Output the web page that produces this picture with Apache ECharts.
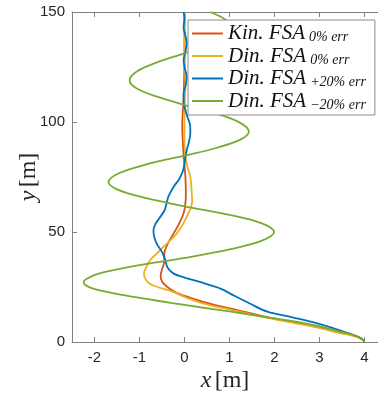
<!DOCTYPE html>
<html>
<head>
<meta charset="utf-8">
<script src="https://cdn.jsdelivr.net/npm/echarts@6/dist/echarts.min.js"></script>
<style>
  html, body { margin: 0; padding: 0; background: #fff; }
  #chart { width: 378px; height: 397px; }
</style>
</head>
<body>
<div id="chart"></div>
<script>
const xTicks = [-2, -1, 0, 1, 2, 3, 4];
const yTicks = [0, 50, 100, 150];

// [x, y] pairs
const kin0 = [
  [4.0, 0.3], [3.85, 2.3], [3.4, 4.5], [2.95, 6.8], [2.4, 9.0], [1.84, 11.3], [1.06, 15],
  [0.5, 17.8], [0.1, 20.3], [-0.2, 22.6], [-0.38, 25], [-0.5, 27.5], [-0.53, 30], [-0.5, 33],
  [-0.45, 36.5], [-0.45, 40], [-0.4, 43.5], [-0.28, 48], [-0.14, 53], [-0.02, 58.5], [0.02, 63],
  [0.03, 68], [0.02, 75], [0.0, 80], [-0.02, 85], [-0.04, 92], [-0.05, 98], [-0.04, 104],
  [-0.02, 110], [-0.01, 118], [0.0, 130], [0.0, 150]
];
const din0 = [
  [4.0, 0.3], [3.85, 2.2], [3.4, 4.3], [2.95, 6.6], [2.4, 8.8], [1.84, 11], [1.06, 14.5],
  [0.4, 17.6], [0.0, 20.5], [-0.27, 22.9], [-0.6, 25], [-0.79, 26.7], [-0.88, 29], [-0.9, 31.2],
  [-0.85, 34], [-0.76, 37.3], [-0.6, 40.5], [-0.47, 43.3], [-0.3, 46.5], [-0.17, 49.4],
  [-0.05, 53], [0.05, 57], [0.13, 60.5], [0.17, 64], [0.16, 68], [0.13, 75], [0.06, 80],
  [0.02, 85], [0.0, 92], [0.0, 100], [0.01, 110], [0.02, 118], [0.0, 130], [0.0, 150]
];
const dinP20 = [
  [4.0, 0.3], [3.9, 2], [3.5, 5], [2.95, 8.5], [2.4, 11.2], [1.84, 13.8], [1.45, 17.5],
  [1.08, 21.3], [0.8, 24.3], [0.32, 27.4], [0.0, 29.3], [-0.25, 31.2], [-0.38, 34], [-0.43, 37.5],
  [-0.5, 41], [-0.6, 44], [-0.67, 47.5], [-0.69, 50.8], [-0.65, 53.5], [-0.55, 56.5], [-0.44, 60],
  [-0.4, 63], [-0.35, 66.5], [-0.24, 70.6], [-0.12, 74], [-0.04, 77.5], [0.0, 81], [0.02, 84.2],
  [0.06, 88], [0.1, 91], [0.13, 95], [0.12, 99], [0.07, 102], [0.02, 105.5], [-0.02, 109],
  [-0.02, 113], [0.03, 117], [0.05, 120.6], [0.01, 124], [-0.02, 128], [0.02, 132], [0.05, 136],
  [0.01, 140], [-0.02, 143], [0.0, 147], [-0.02, 150]
];
const dinM20 = [
  [4.0, 0.3], [3.85, 2.5], [3.4, 5], [2.9, 7.5], [2.3, 9.8], [1.6, 12], [1.0, 13.9],
  [0.35, 15.8], [-0.27, 17.7], [-0.85, 19.6], [-1.39, 21.4], [-1.8, 23.1], [-2.08, 24.6],
  [-2.21, 26], [-2.24, 27.2], [-2.19, 28.5], [-1.94, 30.9], [-1.12, 34.5], [0.0, 38.2],
  [1.0, 42.1], [1.72, 46.1], [1.99, 50], [1.72, 53.9], [1.0, 57.8], [0.0, 61.7],
  [-0.85, 65.4], [-1.46, 69], [-1.69, 72.7], [-1.46, 76.7], [-0.85, 80.7], [0.0, 84.7],
  [0.72, 88.3], [1.24, 92], [1.43, 95.6], [1.24, 99.6], [0.72, 103.7], [0.0, 107.7],
  [-0.61, 111.5], [-1.06, 115.2], [-1.22, 119], [-1.06, 123], [-0.61, 127.1], [0.0, 131.2],
  [0.52, 135], [0.91, 138.9], [1.05, 142.7], [0.91, 146.5], [0.57, 150]
];

const seriesNames = ['kin0', 'din0', 'dinP20', 'dinM20'];
const mainLabels = ['Kin. FSA', 'Din. FSA', 'Din. FSA', 'Din. FSA'];
const subLabels = ['0% err', '0% err', '+20% err', '\u221220% err'];
const colors = ['#D95319', '#EDB120', '#0072BD', '#77AC30'];
const curves = [kin0, din0, dinP20, dinM20];

const chart = echarts.init(document.getElementById('chart'));
const axisColor = '#808080';
const labelColor = '#262626';

chart.setOption({
  animation: false,
  grid: { left: 72, right: 0, top: 12, bottom: 55, outerBoundsMode: 'none' },
  legend: {
    orient: 'vertical',
    left: 188,
    top: 20,
    padding: [3, 9, 3, 4],
    itemGap: 1,
    itemWidth: 31,
    itemHeight: 2,
    icon: 'rect',
    backgroundColor: '#fff',
    borderColor: '#8a8a8a',
    borderWidth: 1,
    borderRadius: 0,
    data: seriesNames,
    formatter: (name) => {
      const i = seriesNames.indexOf(name);
      return '{a|' + mainLabels[i] + '}{b|' + subLabels[i] + '}';
    },
    textStyle: {
      rich: {
        a: { fontFamily: 'Liberation Serif', fontStyle: 'italic', fontSize: 21, lineHeight: 22, color: '#111' },
        b: { fontFamily: 'Liberation Serif', fontStyle: 'italic', fontSize: 14, lineHeight: 10, verticalAlign: 'bottom', padding: [0, 0, 0, 4], color: '#111' }
      }
    }
  },
  xAxis: [{
    type: 'value',
    min: -2.5,
    max: 4.3,
    position: 'bottom',
    axisLine: { show: true, onZero: false, lineStyle: { color: axisColor, width: 1 } },
    axisTick: { show: true, inside: true, length: 5, customValues: xTicks, lineStyle: { color: axisColor } },
    axisLabel: { customValues: xTicks, fontFamily: 'Liberation Sans', fontSize: 15, color: labelColor, margin: 8 },
    splitLine: { show: false },
    name: '{i|x} {r|[m]}',
    nameLocation: 'middle',
    nameGap: 27,
    nameMoveOverlap: false,
    nameTextStyle: {
      rich: {
        i: { fontFamily: 'Liberation Serif', fontStyle: 'italic', fontSize: 24, color: labelColor },
        r: { fontFamily: 'Liberation Serif', fontSize: 24, color: labelColor }
      }
    }
  }, {
    type: 'value',
    min: -2.5,
    max: 4.3,
    position: 'top',
    axisLine: { show: true, onZero: false, lineStyle: { color: axisColor, width: 1 } },
    axisTick: { show: true, inside: true, length: 5, customValues: xTicks, lineStyle: { color: axisColor } },
    axisLabel: { show: false },
    splitLine: { show: false }
  }],
  yAxis: {
    type: 'value',
    min: 0,
    max: 150,
    interval: 50,
    position: 'left',
    axisLine: { show: true, onZero: false, lineStyle: { color: axisColor, width: 1 } },
    axisTick: { show: true, inside: true, length: 5, lineStyle: { color: axisColor } },
    axisLabel: { fontFamily: 'Liberation Sans', fontSize: 15, color: labelColor, margin: 7 },
    splitLine: { show: false },
    name: '{i|y} {r|[m]}',
    nameLocation: 'middle',
    nameGap: 31,
    nameMoveOverlap: false,
    nameRotate: 90,
    nameTextStyle: {
      rich: {
        i: { fontFamily: 'Liberation Serif', fontStyle: 'italic', fontSize: 24, color: labelColor },
        r: { fontFamily: 'Liberation Serif', fontSize: 24, color: labelColor }
      }
    }
  },
  series: curves.map((d, i) => ({
    name: seriesNames[i],
    type: 'line',
    data: d,
    symbol: 'none',
    smooth: 0.35,
    color: colors[i],
    lineStyle: { width: 1.8, color: colors[i] }
  }))
});
</script>
</body>
</html>
